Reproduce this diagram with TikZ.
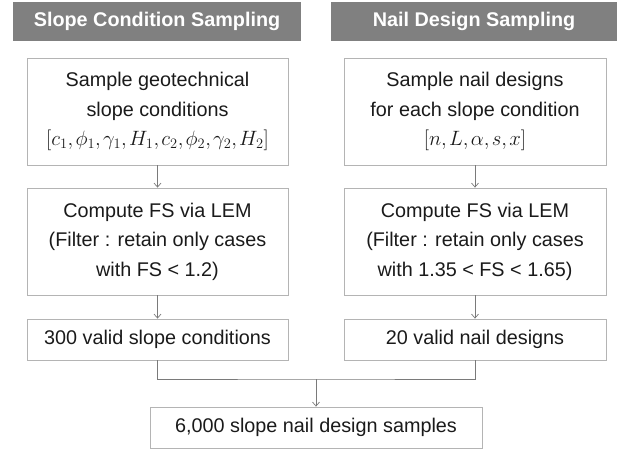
\documentclass[tikz,border=0pt]{standalone}
\usepackage{fontspec}
\setmainfont{Liberation Sans}
\usetikzlibrary{arrows.meta}
\definecolor{headgray}{HTML}{808080}
\definecolor{framegray}{HTML}{B4B4B4}
\definecolor{linkgray}{HTML}{7A7A7A}
\definecolor{inkdark}{HTML}{1A1A1A}
% tight comma for parameter lists
\newcommand{\tc}{\mathord{,}\mkern2mu}
\tikzset{
  header/.style={fill=headgray, draw=none, inner sep=0pt, text=white,
    font=\fontsize{19.8}{24}\selectfont\bfseries},
  stepbox/.style={draw=framegray, line width=0.8pt, inner sep=0pt, align=center,
    text=inkdark, font=\fontsize{19.8}{29.5}\selectfont},
  link/.style={draw=linkgray, line width=0.7pt},
  linkarrow/.style={link, -{Straight Barb[length=4pt,width=7pt]}}
}
\begin{document}
\begin{tikzpicture}[x=1pt,y=-1pt]
  \useasboundingbox (0,0) rectangle (617,450);

  % column headers
  \node[header, minimum width=288pt, minimum height=39pt] (hl) at (157,21.5) {Slope Condition Sampling};
  \node[header, minimum width=286pt, minimum height=39pt] (hr) at (474,21.5) {Nail Design Sampling};

  % slope condition column
  \node[stepbox, minimum width=261pt, minimum height=107pt] (l1) at (157.5,111.5)
    {\raisebox{-2pt}{Sample geotechnical}\\\raisebox{-2pt}{slope conditions}\\
     \raisebox{-2pt}{$[c_1\tc\phi_1\tc\gamma_1\tc H_1\tc c_2\tc\phi_2\tc\gamma_2\tc H_2]$}};
  \node[stepbox, minimum width=261pt, minimum height=107pt] (l2) at (157.5,241.5)
    {\raisebox{-2pt}{Compute FS via LEM}\\\raisebox{-2pt}{(Filter : retain only cases}\\\raisebox{-2pt}{with FS < 1.2)}};
  \node[stepbox, minimum width=261pt, minimum height=41pt] (l3) at (157.5,339.5)
    {300 valid slope conditions};

  % nail design column
  \node[stepbox, minimum width=262pt, minimum height=107pt] (r1) at (475,111.5)
    {\raisebox{-2pt}{Sample nail designs}\\\raisebox{-2pt}{for each slope condition}\\
     \raisebox{-2pt}{$[n\tc L\tc\alpha\tc s\tc x]$}};
  \node[stepbox, minimum width=262pt, minimum height=107pt] (r2) at (475,241.5)
    {\raisebox{-2pt}{Compute FS via LEM}\\\raisebox{-2pt}{(Filter : retain only cases}\\\raisebox{-2pt}{with 1.35 < FS < 1.65)}};
  \node[stepbox, minimum width=262pt, minimum height=41pt] (r3) at (475,339.5)
    {20 valid nail designs};

  % combined result
  \node[stepbox, minimum width=332pt, minimum height=41pt] (out) at (316,427.5)
    {6,000 slope nail design samples};

  % connectors
  \draw[linkarrow] (l1) -- (l2);
  \draw[linkarrow] (l2) -- (l3);
  \draw[linkarrow] (r1) -- (r2);
  \draw[linkarrow] (r2) -- (r3);

  \coordinate (merge) at (316,379);
  \draw[link] (l3.south) |- (merge) -| (r3.south);
  \draw[linkarrow] (merge) -- (out.north);
\end{tikzpicture}
\end{document}
